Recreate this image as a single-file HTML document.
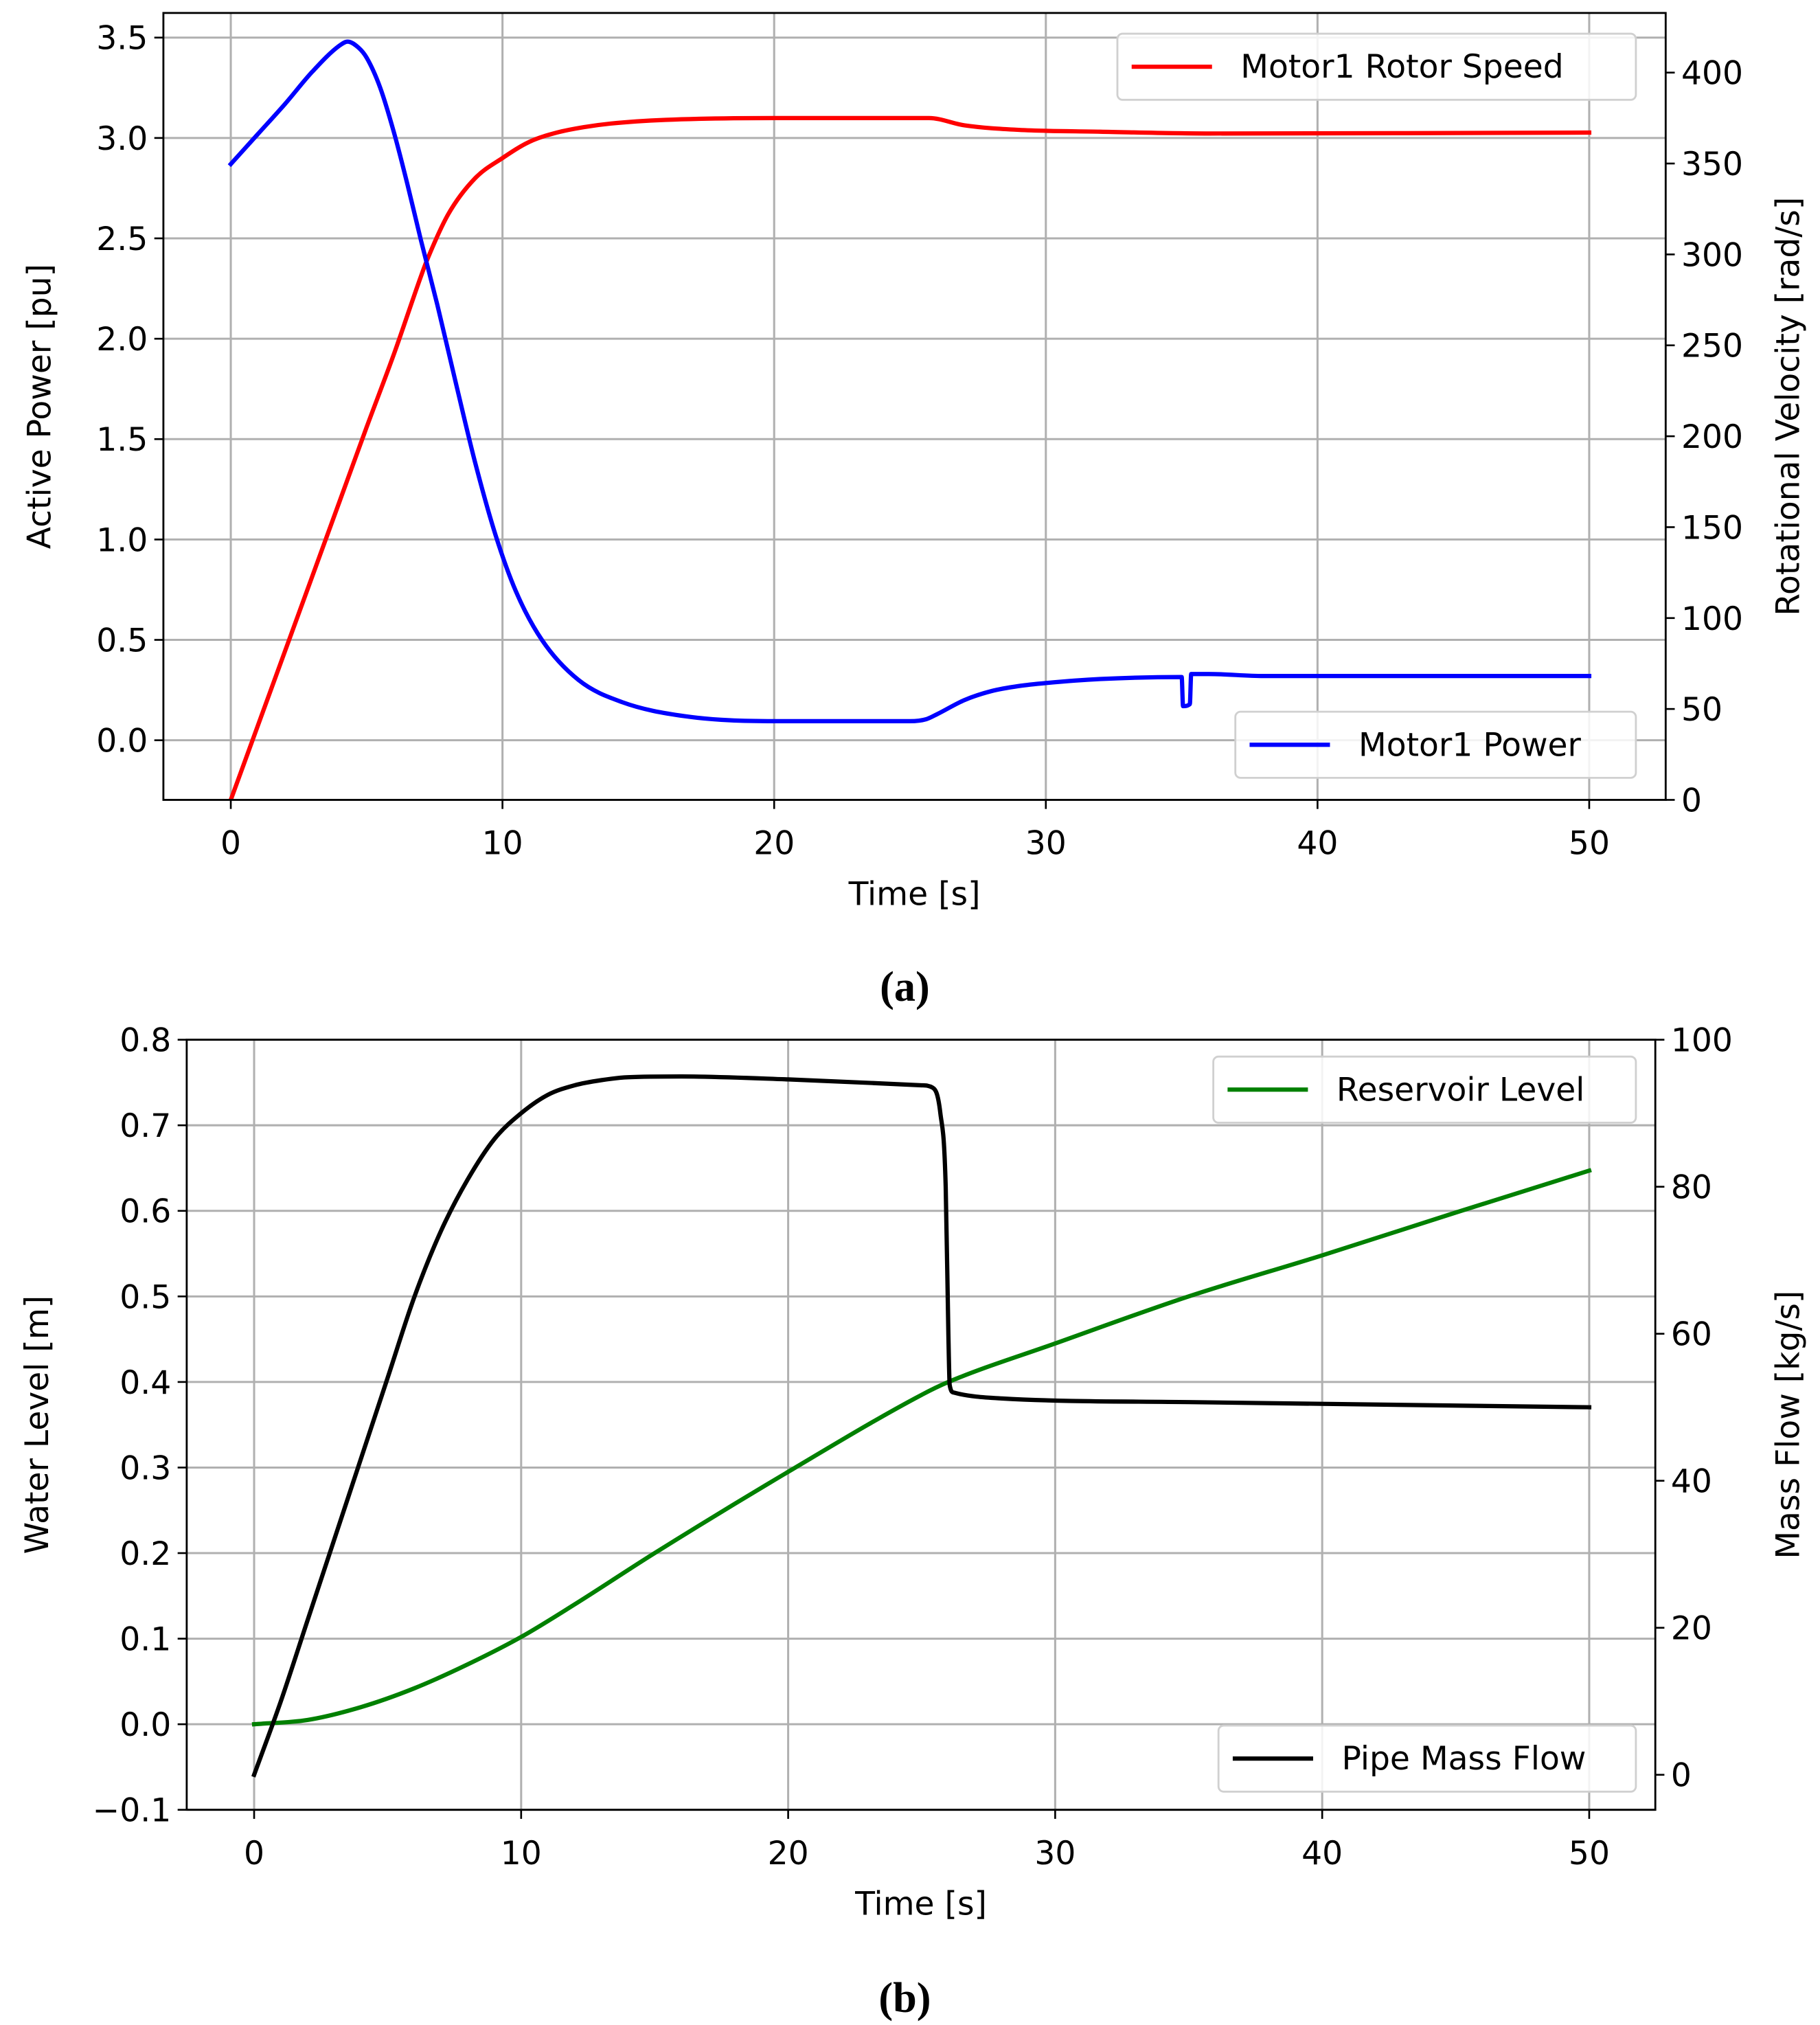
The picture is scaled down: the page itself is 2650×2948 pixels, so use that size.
<!DOCTYPE html>
<html><head><meta charset="utf-8"><style>
html,body{margin:0;padding:0;background:#fff}
svg{display:block}
text{font-family:"DejaVu Sans","Liberation Sans",sans-serif;fill:#000}
.cap{font-family:"Liberation Serif",serif;font-weight:bold}
</style></head><body>
<svg id="svg" width="2650" height="2948" viewBox="0 0 1404 1562" xmlns="http://www.w3.org/2000/svg"></svg>
<script>
// ---- chart (a) data ----
const aTime = [0,1,2,3,4,4.3,4.7,5,5.5,6,6.5,7,7.6,8.3,9,9.75,10.5,11.45,12.8,14.4,16.7,20,25,25.6,26,27,28,29,30,32,35,35.05,35.3,35.35,36,38,50];
const aPower = [2.87,3.02,3.17,3.33,3.46,3.48,3.45,3.40,3.25,3.03,2.77,2.49,2.17,1.77,1.38,1.02,0.74,0.5,0.30,0.19,0.12,0.095,0.095,0.105,0.13,0.20,0.245,0.27,0.285,0.305,0.315,0.17,0.18,0.33,0.33,0.32,0.32];
const aSpeedTime = [0,1,2,3,4,5,6,7,7.2,8,9,10,11,12,13,14,16,20,25.7,27,29,32,36,50];
const aSpeed = [0,41,82,123,164,205,245,288,296,322,342,353,362,367,370,372,374,375,375,371,368.5,367.5,366.5,367];
const aXTicks = [0,10,20,30,40,50];
const aLTicks = [0.0,0.5,1.0,1.5,2.0,2.5,3.0,3.5];
const aRTicks = [0,50,100,150,200,250,300,350,400];
// ---- chart (b) data ----
const bTime = [0,2,4,6,8,10,12,15,20,25,26,30,35,40,45,50];
const bLevel = [0,0.005,0.02,0.042,0.07,0.102,0.14,0.2,0.295,0.385,0.4,0.445,0.5,0.548,0.598,0.647];
const bFlowTime = [0,1,2,3,4,5,6,7,8,9,10,11,12,13,14,16,20,25,25.4,25.7,25.9,26,26.05,26.2,28,35,50];
const bFlow = [0,10,21,32,43,54,65,74,81,86.5,90,92.5,93.8,94.5,94.9,95,94.6,93.8,93.5,90,80,60,53,52,51.2,50.7,50];
const bXTicks = [0,10,20,30,40,50];
const bLTicks = [-0.1,0.0,0.1,0.2,0.3,0.4,0.5,0.6,0.7,0.8];
const bRTicks = [0,20,40,60,80,100];

const svg = document.getElementById('svg');
const NS='http://www.w3.org/2000/svg';
function el(tag, attrs, parent){const e=document.createElementNS(NS,tag);for(const k in attrs)e.setAttribute(k,attrs[k]);(parent||svg).appendChild(e);return e;}
function txt(s, attrs){const e=el('text',attrs);e.textContent=s;return e;}

function smoothPath(px,py){
  const n=px.length;if(n<2)return '';
  const dx=[],m=[],t=[];
  for(let i=0;i<n-1;i++){dx.push(px[i+1]-px[i]);m.push((py[i+1]-py[i])/(dx[i]||1e-9));}
  t[0]=m[0];t[n-1]=m[n-2];
  for(let i=1;i<n-1;i++){t[i]=(m[i-1]*m[i]<=0)?0:(m[i-1]+m[i])/2;}
  for(let i=0;i<n-1;i++){
    if(m[i]===0){t[i]=0;t[i+1]=0;continue;}
    const a=t[i]/m[i],b=t[i+1]/m[i],s=a*a+b*b;
    if(s>9){const k=3/Math.sqrt(s);t[i]=k*a*m[i];t[i+1]=k*b*m[i];}
  }
  let d='M'+px[0].toFixed(2)+' '+py[0].toFixed(2);
  for(let i=0;i<n-1;i++){
    const h=dx[i]/3;
    d+=' C'+(px[i]+h).toFixed(2)+' '+(py[i]+t[i]*h).toFixed(2)+' '+(px[i+1]-h).toFixed(2)+' '+(py[i+1]-t[i+1]*h).toFixed(2)+' '+px[i+1].toFixed(2)+' '+py[i+1].toFixed(2);
  }
  return d;
}

function chart(cfg){
  const g=el('g',{});
  
  
  const X=t=>cfg.x0+(t-cfg.t0)/(cfg.t1-cfg.t0)*(cfg.x1-cfg.x0);
  const YL=v=>cfg.lp0+(v-cfg.l0)/(cfg.l1-cfg.l0)*(cfg.lp1-cfg.lp0);
  const YR=v=>cfg.rp0+(v-cfg.r0)/(cfg.r1-cfg.r0)*(cfg.rp1-cfg.rp0);
  cfg.xt.forEach(t=>{const l=el('line',{x1:X(t),x2:X(t),y1:cfg.yt,y2:cfg.yb,stroke:'#b0b0b0','stroke-width':1.6},g);
    });
  cfg.lt.forEach(v=>{const l=el('line',{x1:cfg.L,x2:cfg.R,y1:YL(v),y2:YL(v),stroke:'#b0b0b0','stroke-width':1.6},g);
    });
  const clipId='clip-'+cfg.name;
  const cp=el('clipPath',{id:clipId},g);el('rect',{x:cfg.L,y:cfg.yt,width:cfg.R-cfg.L,height:cfg.yb-cfg.yt},cp);
  cfg.series.forEach(s=>{
    const Y=s.right?YR:YL;
    const d=smoothPath(s.t.map(X),s.v.map(Y));
    const p=el('path',{d:d,fill:'none',stroke:s.color,'stroke-width':3.3,'stroke-linejoin':'round','stroke-linecap':'square','clip-path':'url(#'+clipId+')'},g);
    
    
  });
  const fr=el('rect',{x:cfg.L,y:cfg.yt,width:cfg.R-cfg.L,height:cfg.yb-cfg.yt,fill:'none',stroke:'#000','stroke-width':1.5},g);
  
  cfg.xt.forEach(t=>{el('line',{x1:X(t),x2:X(t),y1:cfg.yb,y2:cfg.yb+7,stroke:'#000','stroke-width':1.4},g);
    const e=txt(String(t),{x:X(t),y:cfg.yb+42,'font-size':25,'text-anchor':'middle'});
    });
  cfg.lt.forEach(v=>{el('line',{x1:cfg.L-7,x2:cfg.L,y1:YL(v),y2:YL(v),stroke:'#000','stroke-width':1.4},g);
    const e=txt(v<0?'\u2212'+Math.abs(v).toFixed(1):v.toFixed(1),{x:cfg.L-12,y:YL(v)+9,'font-size':25,'text-anchor':'end'});
    });
  cfg.rt.forEach(v=>{el('line',{x1:cfg.R,x2:cfg.R+7,y1:YR(v),y2:YR(v),stroke:'#000','stroke-width':1.4},g);
    const e=txt(String(v),{x:cfg.R+12,y:YR(v)+9,'font-size':25,'text-anchor':'start'});
    });
  const cy=(cfg.yt+cfg.yb)/2;
  let e=txt(cfg.xl,{x:(cfg.L+cfg.R)/2,y:cfg.yb+81,'font-size':25,'text-anchor':'middle'});
  
  e=txt(cfg.ll,{x:0,y:0,'font-size':25,'text-anchor':'middle',transform:`translate(${cfg.llx},${cy}) rotate(-90)`});
  
  e=txt(cfg.rl,{x:0,y:0,'font-size':25,'text-anchor':'middle',transform:`translate(${cfg.rlx},${cy}) rotate(-90)`});
  
  cfg.legends.forEach(lg=>{
    const lgG=el('g',{},g);
    
    
    el('rect',{x:lg.x,y:lg.y,width:1262-lg.x,height:51,rx:4,fill:'#fff','fill-opacity':0.85,stroke:'#d0d0d0','stroke-width':1.5},lgG);
    el('line',{x1:lg.x+11,x2:lg.x+73,y1:lg.y+25.5,y2:lg.y+25.5,stroke:lg.color,'stroke-width':3.3},lgG);
    const t=el('text',{x:lg.x+95,y:lg.y+34,'font-size':25},lgG);t.textContent=lg.label;
  });
  e=txt(cfg.cap,{x:cfg.capx,y:cfg.capy,'font-size':33,'text-anchor':'middle','class':'cap'});
  
}

chart({name:'chart-a-motor',L:126,R:1285,yt:10,yb:617,x0:178,x1:1226,t0:0,t1:50,
  l0:0,l1:3.5,lp0:571,lp1:29,r0:0,r1:400,rp0:617,rp1:56,
  xt:aXTicks,lt:aLTicks,rt:aRTicks,
  xl:'Time [s]',ll:'Active Power [pu]',rl:'Rotational Velocity [rad/s]',llx:39,rlx:1388,
  series:[{name:'motor1-rotor-speed-line',t:aSpeedTime,v:aSpeed,color:'#ff0000',right:true},
          {name:'motor1-power-line',t:aTime,v:aPower,color:'#0000ff',right:false}],
  legends:[{name:'legend-rotor-speed',x:862,y:26,color:'#ff0000',label:'Motor1 Rotor Speed'},
           {name:'legend-motor-power',x:953,y:549,color:'#0000ff',label:'Motor1 Power'}],
  cap:'(a)',capx:698,capy:772});

chart({name:'chart-b-reservoir',L:144,R:1277,yt:802,yb:1396,x0:196,x1:1226,t0:0,t1:50,
  l0:0,l1:0.8,lp0:1330,lp1:802,r0:0,r1:100,rp0:1369,rp1:802,
  xt:bXTicks,lt:bLTicks,rt:bRTicks,
  xl:'Time [s]',ll:'Water Level [m]',rl:'Mass Flow [kg/s]',llx:37,rlx:1388,
  series:[{name:'reservoir-level-line',t:bTime,v:bLevel,color:'#008000',right:false},
          {name:'pipe-mass-flow-line',t:bFlowTime,v:bFlow,color:'#000000',right:true}],
  legends:[{name:'legend-reservoir-level',x:936,y:815,color:'#008000',label:'Reservoir Level'},
           {name:'legend-pipe-mass-flow',x:940,y:1331,color:'#000000',label:'Pipe Mass Flow'}],
  cap:'(b)',capx:698,capy:1552});
</script>
</body></html>
